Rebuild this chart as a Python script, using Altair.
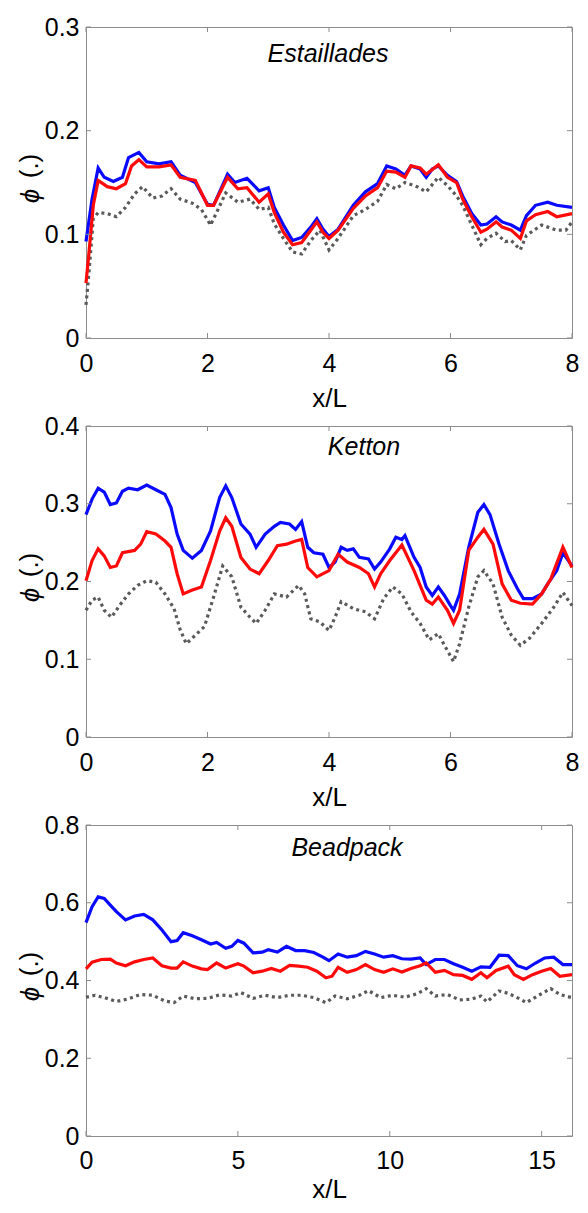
import altair as alt
import pandas as pd

FONT = "Liberation Sans, Arial, Helvetica, sans-serif"
BLUE = "#0a0aff"
RED = "#ff0a0a"
GRAY = "#5a5a5a"

# ---------------- Estaillades ----------------
E_BLUE_X = [0, 0.1, 0.2, 0.3, 0.45, 0.6, 0.7, 0.87, 1.0, 1.2, 1.4, 1.55, 1.8, 2.0, 2.1, 2.33, 2.45, 2.65, 2.85, 3.0,
            3.1, 3.25, 3.4, 3.55, 3.7, 3.8, 3.9, 4.0, 4.15, 4.4, 4.6, 4.8, 4.95, 5.1, 5.25, 5.35, 5.5, 5.6, 5.7, 5.8,
            5.95, 6.1, 6.2, 6.35, 6.5, 6.6, 6.75, 6.85, 7.0, 7.15, 7.25, 7.4, 7.6, 7.75, 8.0]
E_BLUE_Y = [0.093, 0.134, 0.164, 0.155, 0.151, 0.155, 0.174, 0.179, 0.170, 0.168, 0.170, 0.157, 0.150, 0.129, 0.128, 0.158, 0.150, 0.154, 0.142, 0.145,
            0.126, 0.109, 0.094, 0.097, 0.107, 0.115, 0.105, 0.098, 0.105, 0.128, 0.141, 0.149, 0.166, 0.163, 0.157, 0.166, 0.163, 0.155, 0.163, 0.166,
            0.157, 0.151, 0.137, 0.120, 0.109, 0.110, 0.117, 0.112, 0.109, 0.104, 0.118, 0.128, 0.131, 0.128, 0.126]
E_RED_X = [0, 0.05, 0.12, 0.2, 0.35, 0.5, 0.65, 0.75, 0.87, 1.0, 1.2, 1.4, 1.55, 1.8, 2.0, 2.1, 2.33, 2.5, 2.65, 2.85,
           3.0, 3.1, 3.25, 3.4, 3.55, 3.7, 3.8, 3.9, 4.0, 4.15, 4.4, 4.6, 4.8, 4.95, 5.1, 5.25, 5.35, 5.5, 5.6, 5.8,
           5.95, 6.1, 6.2, 6.35, 6.5, 6.6, 6.75, 6.85, 7.0, 7.15, 7.25, 7.4, 7.6, 7.75, 8.0]
E_RED_Y = [0.053, 0.083, 0.128, 0.152, 0.146, 0.144, 0.149, 0.166, 0.172, 0.165, 0.165, 0.167, 0.155, 0.152, 0.128, 0.128, 0.155, 0.144, 0.145, 0.131,
           0.139, 0.121, 0.102, 0.090, 0.092, 0.104, 0.112, 0.102, 0.096, 0.104, 0.125, 0.137, 0.145, 0.161, 0.160, 0.155, 0.166, 0.164, 0.158, 0.167,
           0.155, 0.150, 0.134, 0.117, 0.102, 0.105, 0.112, 0.107, 0.104, 0.096, 0.113, 0.119, 0.122, 0.117, 0.120]
E_GRAY_X = [0, 0.05, 0.12, 0.2, 0.35, 0.5, 0.65, 0.8, 0.93, 1.1, 1.25, 1.4, 1.55, 1.75, 1.9, 2.05, 2.15, 2.3, 2.5, 2.7,
            2.85, 3.0, 3.1, 3.25, 3.4, 3.55, 3.7, 3.85, 4.0, 4.15, 4.4, 4.6, 4.8, 4.95, 5.1, 5.25, 5.45, 5.6, 5.8, 5.95,
            6.1, 6.2, 6.35, 6.5, 6.6, 6.75, 6.9, 7.0, 7.15, 7.25, 7.5, 7.75, 7.9, 8.0]
E_GRAY_Y = [0.032, 0.064, 0.115, 0.121, 0.120, 0.117, 0.126, 0.139, 0.146, 0.135, 0.137, 0.144, 0.134, 0.130, 0.124, 0.109, 0.121, 0.140, 0.131, 0.134,
            0.124, 0.126, 0.110, 0.096, 0.083, 0.081, 0.094, 0.104, 0.085, 0.096, 0.118, 0.124, 0.132, 0.148, 0.144, 0.150, 0.146, 0.141, 0.155, 0.147,
            0.137, 0.128, 0.109, 0.090, 0.096, 0.101, 0.093, 0.094, 0.085, 0.099, 0.109, 0.104, 0.104, 0.112]

# ---------------- Ketton ----------------
K_BLUE_X = [0, 0.1, 0.2, 0.3, 0.4, 0.5, 0.6, 0.7, 0.85, 1.0, 1.15, 1.3, 1.4, 1.5, 1.6, 1.75, 1.9, 2.05, 2.2, 2.3,
            2.4, 2.55, 2.7, 2.8, 2.95, 3.1, 3.2, 3.35, 3.45, 3.55, 3.65, 3.75, 3.9, 4.0, 4.1, 4.2, 4.3, 4.4, 4.5, 4.65,
            4.75, 4.85, 5.0, 5.1, 5.2, 5.25, 5.4, 5.5, 5.6, 5.7, 5.8, 5.9, 6.0, 6.05, 6.15, 6.3, 6.45, 6.55, 6.65, 6.8,
            6.95, 7.1, 7.2, 7.35, 7.5, 7.6, 7.75, 7.85, 8.0]
K_BLUE_Y = [0.286, 0.306, 0.320, 0.315, 0.299, 0.301, 0.316, 0.320, 0.318, 0.324, 0.318, 0.312, 0.295, 0.261, 0.240, 0.230, 0.240, 0.265, 0.308, 0.323,
            0.308, 0.274, 0.261, 0.244, 0.261, 0.271, 0.276, 0.274, 0.267, 0.277, 0.244, 0.237, 0.235, 0.218, 0.225, 0.244, 0.240, 0.242, 0.231, 0.229,
            0.216, 0.225, 0.242, 0.257, 0.254, 0.259, 0.231, 0.218, 0.193, 0.182, 0.193, 0.182, 0.169, 0.163, 0.184, 0.244, 0.289, 0.299, 0.286, 0.248,
            0.214, 0.191, 0.178, 0.178, 0.184, 0.197, 0.214, 0.237, 0.220]
K_RED_X = [0, 0.1, 0.2, 0.3, 0.4, 0.5, 0.6, 0.8, 0.9, 1.0, 1.15, 1.3, 1.4, 1.5, 1.6, 1.75, 1.9, 2.05, 2.2, 2.3,
           2.4, 2.55, 2.7, 2.85, 3.0, 3.15, 3.3, 3.45, 3.55, 3.65, 3.8, 4.0, 4.15, 4.3, 4.5, 4.65, 4.75, 4.85, 5.0, 5.2,
           5.4, 5.6, 5.7, 5.8, 5.95, 6.05, 6.15, 6.3, 6.45, 6.55, 6.7, 6.85, 7.0, 7.15, 7.35, 7.5, 7.65, 7.85, 8.0]
K_RED_Y = [0.201, 0.227, 0.242, 0.233, 0.218, 0.220, 0.237, 0.240, 0.248, 0.264, 0.261, 0.252, 0.244, 0.210, 0.184, 0.189, 0.193, 0.227, 0.265, 0.282,
           0.271, 0.231, 0.216, 0.210, 0.227, 0.246, 0.248, 0.252, 0.254, 0.218, 0.206, 0.214, 0.235, 0.225, 0.218, 0.210, 0.193, 0.210, 0.227, 0.247,
           0.214, 0.176, 0.171, 0.180, 0.163, 0.146, 0.163, 0.240, 0.257, 0.267, 0.248, 0.197, 0.176, 0.172, 0.171, 0.184, 0.203, 0.244, 0.218]
K_GRAY_X = [0, 0.1, 0.2, 0.3, 0.42, 0.55, 0.7, 0.85, 1.0, 1.15, 1.3, 1.45, 1.55, 1.65, 1.8, 1.95, 2.1, 2.25, 2.4, 2.55,
            2.7, 2.8, 2.95, 3.1, 3.3, 3.5, 3.6, 3.7, 3.85, 4.0, 4.1, 4.2, 4.4, 4.6, 4.75, 4.9, 5.05, 5.2, 5.35, 5.5,
            5.65, 5.8, 5.9, 6.05, 6.15, 6.3, 6.45, 6.55, 6.7, 6.85, 7.0, 7.15, 7.3, 7.5, 7.7, 7.85, 8.0]
K_GRAY_Y = [0.163, 0.176, 0.180, 0.163, 0.154, 0.169, 0.184, 0.195, 0.201, 0.199, 0.184, 0.165, 0.138, 0.120, 0.131, 0.142, 0.180, 0.220, 0.206, 0.167,
            0.154, 0.146, 0.163, 0.184, 0.180, 0.195, 0.184, 0.152, 0.148, 0.137, 0.154, 0.174, 0.165, 0.161, 0.152, 0.178, 0.193, 0.184, 0.161, 0.146,
            0.125, 0.133, 0.118, 0.097, 0.120, 0.167, 0.206, 0.214, 0.197, 0.154, 0.131, 0.118, 0.127, 0.146, 0.167, 0.186, 0.169]

# ---------------- Beadpack ----------------
B_BLUE_X = [0, 0.2, 0.4, 0.6, 0.8, 1.0, 1.3, 1.6, 1.9, 2.2, 2.5, 2.8, 3.0, 3.2, 3.5, 3.8, 4.1, 4.3, 4.6, 4.8,
            5.0, 5.2, 5.5, 5.8, 6.0, 6.3, 6.6, 6.9, 7.2, 7.5, 7.8, 8.0, 8.3, 8.6, 8.9, 9.2, 9.5, 9.8, 10.1, 10.4,
            10.7, 11.0, 11.2, 11.5, 11.8, 12.1, 12.4, 12.7, 13.0, 13.3, 13.6, 13.9, 14.2, 14.5, 14.8, 15.1, 15.4, 15.7, 16.0]
B_BLUE_Y = [0.549, 0.590, 0.615, 0.611, 0.594, 0.577, 0.556, 0.566, 0.570, 0.556, 0.530, 0.500, 0.503, 0.523, 0.515, 0.505, 0.494, 0.498, 0.483, 0.488,
            0.503, 0.496, 0.471, 0.473, 0.479, 0.473, 0.488, 0.477, 0.477, 0.472, 0.460, 0.451, 0.468, 0.460, 0.464, 0.475, 0.468, 0.460, 0.464, 0.456,
            0.455, 0.458, 0.441, 0.454, 0.454, 0.443, 0.434, 0.424, 0.435, 0.434, 0.465, 0.464, 0.438, 0.430, 0.445, 0.458, 0.460, 0.441, 0.441]
B_RED_X = [0, 0.2, 0.5, 0.8, 1.0, 1.3, 1.6, 1.9, 2.2, 2.5, 2.8, 3.0, 3.2, 3.5, 3.8, 4.0, 4.3, 4.6, 5.0, 5.2,
           5.5, 5.8, 6.1, 6.4, 6.7, 7.0, 7.3, 7.6, 7.9, 8.1, 8.3, 8.6, 8.9, 9.2, 9.5, 9.8, 10.1, 10.4, 10.7, 11.0,
           11.2, 11.5, 11.8, 12.1, 12.4, 12.7, 13.0, 13.2, 13.5, 13.9, 14.1, 14.4, 14.7, 15.0, 15.3, 15.6, 16.0]
B_RED_Y = [0.430, 0.447, 0.454, 0.455, 0.445, 0.438, 0.448, 0.454, 0.458, 0.438, 0.432, 0.432, 0.448, 0.437, 0.430, 0.428, 0.445, 0.432, 0.443, 0.437,
           0.420, 0.424, 0.431, 0.424, 0.439, 0.437, 0.434, 0.424, 0.407, 0.411, 0.434, 0.421, 0.428, 0.441, 0.428, 0.421, 0.430, 0.422, 0.431, 0.438,
           0.445, 0.421, 0.426, 0.415, 0.413, 0.403, 0.420, 0.407, 0.426, 0.437, 0.415, 0.403, 0.415, 0.424, 0.431, 0.411, 0.415]
B_GRAY_X = [0, 0.3, 0.6, 1.0, 1.4, 1.8, 2.2, 2.6, 2.9, 3.2, 3.6, 4.0, 4.4, 4.8, 5.1, 5.5, 5.9, 6.3, 6.7, 7.1,
            7.5, 7.9, 8.2, 8.6, 9.0, 9.3, 9.7, 10.1, 10.5, 10.9, 11.2, 11.5, 11.9, 12.3, 12.7, 13.0, 13.2, 13.6, 13.9, 14.3,
            14.5, 14.9, 15.3, 15.6, 16.0]
B_GRAY_Y = [0.357, 0.362, 0.356, 0.346, 0.353, 0.364, 0.362, 0.347, 0.343, 0.360, 0.353, 0.354, 0.363, 0.360, 0.369, 0.354, 0.362, 0.356, 0.362, 0.362,
            0.356, 0.343, 0.360, 0.353, 0.362, 0.374, 0.356, 0.362, 0.357, 0.366, 0.379, 0.360, 0.364, 0.350, 0.352, 0.360, 0.345, 0.373, 0.367, 0.352,
            0.343, 0.362, 0.379, 0.364, 0.356]

# axes ticks / labels
E_XTICKS = [0, 2, 4, 6, 8]
E_YTICKS = [0, 0.1, 0.2, 0.3]
K_XTICKS = [0, 2, 4, 6, 8]
K_YTICKS = [0, 0.1, 0.2, 0.3, 0.4]
B_XTICKS = [0, 5, 10, 15]
B_YTICKS = [0, 0.2, 0.4, 0.6, 0.8]

W = 486
H = 311
FRAME = "#8c8c8c"


def panel(series, xdom, xticks, ydom, yticks, label, lx, ly, lpad, tpad):
    X = alt.X("x:Q", scale=alt.Scale(domain=xdom, nice=False, zero=False),
              axis=alt.Axis(values=xticks, format="d", title="x/L", labelPadding=lpad,
                            titlePadding=tpad, labelFlush=False))
    Y = alt.Y("y:Q", scale=alt.Scale(domain=ydom, nice=False, zero=False),
              axis=alt.Axis(values=yticks, format="~g", title=None, labelPadding=7))
    layers = []
    for xs, ys, color, dashed in series:
        df = pd.DataFrame({"x": xs, "y": ys})
        if dashed:
            m = alt.Chart(df).mark_line(color=color, strokeWidth=3.2, strokeDash=[3, 3.5])
        else:
            m = alt.Chart(df).mark_line(color=color, strokeWidth=3.2)
        layers.append(m.encode(x=X, y=Y))
    xt = pd.DataFrame({"x": xticks})
    yt = pd.DataFrame({"y": yticks})
    layers.append(alt.Chart(xt).mark_rule(color=FRAME, strokeWidth=1).encode(
        x=X, y=alt.value(H), y2=alt.value(H - 5)))
    layers.append(alt.Chart(xt).mark_rule(color=FRAME, strokeWidth=1).encode(
        x=X, y=alt.value(0), y2=alt.value(5)))
    layers.append(alt.Chart(yt).mark_rule(color=FRAME, strokeWidth=1).encode(
        y=Y, x=alt.value(0), x2=alt.value(5)))
    layers.append(alt.Chart(yt).mark_rule(color=FRAME, strokeWidth=1).encode(
        y=Y, x=alt.value(W - 5), x2=alt.value(W)))
    lab = pd.DataFrame({"t": [label]})
    layers.append(alt.Chart(lab).mark_text(font=FONT, fontSize=25, fontStyle="italic", color="black",
                                           align="center", baseline="alphabetic").encode(
        x=alt.value(lx), y=alt.value(ly), text="t:N"))
    phi = pd.DataFrame({"t": ["ϕ"]})
    par = pd.DataFrame({"t": ["(.)"]})
    layers.append(alt.Chart(phi).mark_text(font=FONT, fontSize=26, fontStyle="italic", color="black",
                                           align="center", baseline="middle", angle=270).encode(
        x=alt.value(-55), y=alt.value(169), text="t:N"))
    layers.append(alt.Chart(par).mark_text(font=FONT, fontSize=26, color="black",
                                           align="center", baseline="middle", angle=270).encode(
        x=alt.value(-56), y=alt.value(139), text="t:N"))
    return alt.layer(*layers).properties(width=W, height=H)


p1 = panel([(E_GRAY_X, E_GRAY_Y, GRAY, True), (E_BLUE_X, E_BLUE_Y, BLUE, False), (E_RED_X, E_RED_Y, RED, False)],
           [0, 8], E_XTICKS, [0, 0.3], E_YTICKS, "Estaillades", 242, 35, 13, 9)
p2 = panel([(K_GRAY_X, K_GRAY_Y, GRAY, True), (K_BLUE_X, K_BLUE_Y, BLUE, False), (K_RED_X, K_RED_Y, RED, False)],
           [0, 8], K_XTICKS, [0, 0.4], K_YTICKS, "Ketton", 278, 29, 13, 9)
p3 = panel([(B_GRAY_X, B_GRAY_Y, GRAY, True), (B_BLUE_X, B_BLUE_Y, BLUE, False), (B_RED_X, B_RED_Y, RED, False)],
           [0, 16], B_XTICKS, [0, 0.8], B_YTICKS, "Beadpack", 261, 31, 12, 3)

chart = alt.vconcat(p1, p2, p3, spacing=88, bounds="flush").properties(
    padding={"left": 8, "top": 6, "right": 0, "bottom": 0}
).configure_view(
    stroke=FRAME, strokeWidth=1
).configure_axis(
    grid=False, domain=False, ticks=False,
    labelFont=FONT, labelFontSize=25, labelColor="black",
    titleFont=FONT, titleFontSize=26, titleFontWeight="normal", titleColor="black"
)

chart.save("out.html", embed_options={"renderer": "svg", "actions": False})
